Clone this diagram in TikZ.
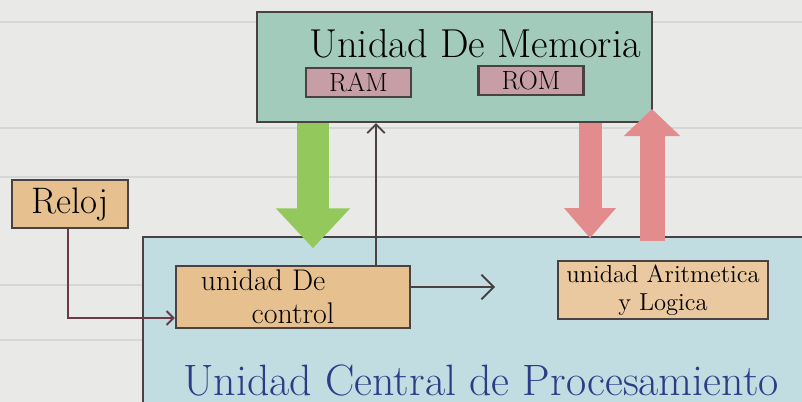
\documentclass[tikz,border=0pt]{standalone}
\usepackage{tikz}
\usetikzlibrary{arrows.meta, positioning}

\definecolor{papel}{HTML}{E9E9E7}
\definecolor{renglon}{HTML}{D6D6D8}
\definecolor{borde}{HTML}{4A4242}
\definecolor{memverde}{HTML}{A3CBBC}
\definecolor{malva}{HTML}{C79DA6}
\definecolor{naranja}{HTML}{E6C08F}
\definecolor{cpuazul}{HTML}{C2DDE2}
\definecolor{verde}{HTML}{93C95C}
\definecolor{rojo}{HTML}{E38C8E}
\definecolor{tinta}{HTML}{2C3C86}
\definecolor{hilo}{HTML}{6A3A48}

\tikzset{
  caja/.style={draw=borde, line width=1.2pt, inner sep=2pt},
  ficha/.style={caja, fill=malva, minimum width=2.1cm, minimum height=0.58cm, font=\fontsize{15}{17}\selectfont},
  flecha/.style={line width=1.1pt, draw=borde, -{Straight Barb[length=7pt, width=14pt]}},
}

\begin{document}
\begin{tikzpicture}[x=0.02cm, y=-0.02cm]
    \useasboundingbox (0,0) rectangle (802,402);
    \fill[papel] (0,0) rectangle (802,402);
    % renglones
    \foreach \y in {22, 128, 177, 285, 340} {
        \draw[renglon, line width=0.6pt] (0,\y) -- (802,\y);
    }

    % Unidad Central de Procesamiento
    \fill[cpuazul] (143,237) rectangle (802,402);
    \draw[borde, line width=1.2pt] (143,402) -- (143,237) -- (802,237);
    \node[text=tinta, font=\fontsize{25}{29}\selectfont] (cpu) at (481,380) {Unidad Central de Procesamiento};

    % Unidad De Memoria
    \node[caja, fill=memverde, minimum width=7.9cm, minimum height=2.2cm] (mem) at (454.5,67) {};
    \node[font=\fontsize{23}{27}\selectfont] (memtit) at (475,44) {Unidad De Memoria};
    \node[ficha] (ram) at (358.5,82.5) {RAM};
    \node[ficha] (rom) at (531,80.5) {ROM};

    % bloques
    \node[caja, fill=naranja, minimum width=2.32cm, minimum height=0.96cm, font=\fontsize{21}{24}\selectfont] (reloj) at (70,204) {Reloj};
    \node[caja, fill=naranja, minimum width=4.68cm, minimum height=1.2cm, align=center, font=\fontsize{17}{19}\selectfont] (uc) at (293,297) {\hspace*{-1.2cm}unidad De\\control};
    \node[caja, fill=naranja!85!white, minimum width=4.2cm, minimum height=1.12cm, align=center, font=\fontsize{14}{16}\selectfont] (alu) at (663,290) {unidad Aritmetica\\y Logica};
    \coordinate (ucout) at (495,287);

    % conexiones
    \draw[hilo, line width=1.1pt, -{Straight Barb[length=4pt, width=8pt]}] ([xshift=-0.04cm]reloj.south) |- ([yshift=-0.42cm]uc.west);
    \draw[flecha] ([yshift=0.2cm]uc.east) -- (ucout);
    \draw[flecha, line width=1pt, -{Straight Barb[length=5pt, width=10pt]}] ([xshift=1.66cm]uc.north) -- ([xshift=1.66cm]uc.north |- mem.south);
    \draw[verde, line width=0.66cm, shorten >=0.34cm, -{Triangle[width=1.44cm, length=0.8cm]}] ([xshift=0.4cm]uc.north |- mem.south) -- ([xshift=0.4cm]uc.north);
    \draw[rojo, line width=0.46cm, shorten >=0.44cm, -{Triangle[width=1cm, length=0.6cm]}] ([xshift=-1.46cm]alu.north |- mem.south) -- ([xshift=-1.46cm]alu.north);
    \draw[rojo, line width=0.5cm, shorten <=0.38cm, shorten >=-0.28cm, -{Triangle[width=1.1cm, length=0.54cm]}] ([xshift=-0.22cm]alu.north) -- ([xshift=-0.22cm]alu.north |- mem.south);
\end{tikzpicture}
\end{document}
